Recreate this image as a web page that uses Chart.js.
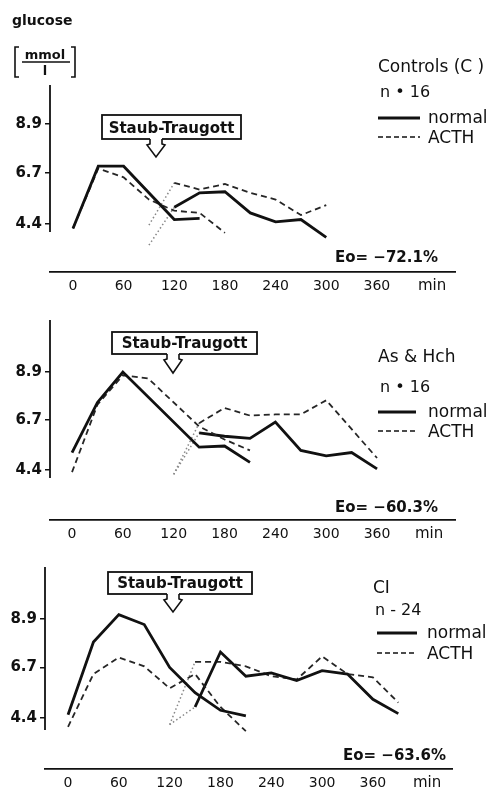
<!DOCTYPE html>
<html lang="de">
<head>
<meta charset="UTF-8">
<title>Glucose - Staub-Traugott</title>
<script src="https://cdn.jsdelivr.net/npm/chart.js"></script>
<style>
  body { margin: 0; background: #fff; width: 498px; height: 794px; position: relative; overflow: hidden; }
  canvas { position: absolute; left: 0; display: block; }
</style>
</head>
<body>
<canvas id="c1" width="498" height="300" style="top:0px"></canvas>
<canvas id="c2" width="498" height="250" style="top:300px"></canvas>
<canvas id="c3" width="498" height="244" style="top:550px"></canvas>

<script>
// minutes after glucose load / glucose in mmol/l
const xTicks = [0, 60, 120, 180, 240, 300, 360];
const yTicks = [4.4, 6.7, 8.9];

const groupNames = ['Controls (C )', 'As & Hch', 'CI'];
const groupN = ['n • 16', 'n • 16', 'n - 24'];
const eoPercent = ['-72.1', '-60.3', '-63.6'];
const seriesNames = ['normal', 'ACTH'];
const calloutText = 'Staub-Traugott';

// Controls (C)
const ctrlNormal1 = [[0, 4.2], [30, 7.0], [60, 7.0], [120, 4.6], [150, 4.65]];
const ctrlActh1 = [[0, 4.2], [30, 6.9], [60, 6.5], [90, 5.5], [120, 5.0], [150, 4.9], [180, 4.0]];
const ctrlNormal2 = [[90, 3.45], [120, 5.15], [150, 5.8], [180, 5.85], [210, 4.9], [240, 4.5], [270, 4.6], [300, 3.8]];
const ctrlActh2 = [[90, 4.35], [120, 6.25], [150, 5.95], [180, 6.2], [210, 5.8], [240, 5.5], [270, 4.8], [300, 5.25]];

// As & Hch
const asNormal1 = [[0, 5.2], [30, 7.5], [60, 8.9], [150, 5.45], [180, 5.5], [210, 4.75]];
const asActh1 = [[0, 4.3], [30, 7.4], [60, 8.75], [90, 8.6], [150, 6.4], [180, 5.8], [210, 5.3]];
const asNormal2 = [[120, 4.2], [150, 6.1], [180, 5.95], [210, 5.85], [240, 6.6], [270, 5.3], [300, 5.05], [330, 5.2], [360, 4.45]];
const asActh2 = [[120, 4.2], [150, 6.55], [180, 7.25], [210, 6.9], [240, 6.95], [270, 6.95], [300, 7.6], [360, 4.95]];

// CI
const ciNormal1 = [[0, 4.55], [30, 7.85], [60, 9.1], [90, 8.65], [120, 6.7], [150, 5.55], [180, 4.75], [210, 4.5]];
const ciActh1 = [[0, 4.0], [30, 6.4], [60, 7.15], [90, 6.75], [120, 5.75], [150, 6.4], [180, 4.9], [210, 3.8]];
const ciNormal2 = [[120, 4.1], [150, 4.9], [180, 7.4], [210, 6.3], [240, 6.45], [270, 6.1], [300, 6.55], [330, 6.4], [360, 5.25], [390, 4.6]];
const ciActh2 = [[120, 4.1], [150, 6.95], [180, 6.95], [210, 6.75], [240, 6.3], [270, 6.15], [300, 7.2], [330, 6.4], [360, 6.25], [390, 5.1]];

const INK = '#111';
const FONT = "'DejaVu Sans', sans-serif";

// layout of each panel (pixels inside its own canvas)
const panels = [
  { id: 'c1', h: 300, area: { l: 50, r: 455, t: 85, b: 272 }, x: [-27.2, 452.5], y: [2.24, 10.655], yAxisEnd: 232,
    box: { x: 102, y: 115, w: 139, h: 24 }, tipX: 156, tipY: 157,
    title: [378, 72], n: [380, 97], leg: { x1: 378, x2: 420, y1: 118, y2: 137, tx: 428 }, eo: [335, 262], minX: 418, unit: true,
    series: [ctrlNormal1, ctrlActh1, ctrlNormal2, ctrlActh2] },
  { id: 'c2', h: 250, area: { l: 50, r: 455, t: 20, b: 220 }, x: [-26, 452], y: [2.104, 11.287], yAxisEnd: 178,
    box: { x: 112, y: 32, w: 145, h: 22 }, tipX: 173, tipY: 73,
    title: [378, 62], n: [380, 92], leg: { x1: 378, x2: 416, y1: 112, y2: 131, tx: 428 }, eo: [335, 212], minX: 415,
    series: [asNormal1, asActh1, asNormal2, asActh2] },
  { id: 'c3', h: 244, area: { l: 45, r: 452, t: 17, b: 219 }, x: [-27.2, 453.4], y: [2.082, 11.264], yAxisEnd: 180,
    box: { x: 108, y: 22, w: 144, h: 22 }, tipX: 173, tipY: 62,
    title: [373, 43], n: [375, 65], leg: { x1: 377, x2: 417, y1: 83, y2: 103, tx: 427 }, eo: [343, 210], minX: 413,
    series: [ciNormal1, ciActh1, ciNormal2, ciActh2] }
];

function toPoints(arr) {
  return arr.map(p => ({ x: p[0], y: p[1] }));
}

function drawCallout(ctx, p) {
  const b = p.box;
  ctx.save();
  ctx.strokeStyle = INK;
  ctx.lineWidth = 1.8;
  ctx.fillStyle = '#fff';
  ctx.fillRect(b.x, b.y, b.w, b.h);
  ctx.strokeRect(b.x, b.y, b.w, b.h);
  const bot = b.y + b.h;
  const cx = p.tipX;
  ctx.fillRect(cx - 6, bot - 1.5, 12, 3);
  ctx.lineWidth = 1.6;
  ctx.beginPath();
  ctx.moveTo(cx - 6, bot);
  ctx.lineTo(cx - 6, bot + 5);
  ctx.lineTo(cx - 9, bot + 6);
  ctx.lineTo(cx, p.tipY);
  ctx.lineTo(cx + 9, bot + 6);
  ctx.lineTo(cx + 6, bot + 5);
  ctx.lineTo(cx + 6, bot);
  ctx.stroke();
  ctx.fillStyle = INK;
  ctx.font = 'bold 15px ' + FONT;
  ctx.textAlign = 'center';
  ctx.textBaseline = 'alphabetic';
  ctx.fillText(calloutText, b.x + b.w / 2, bot - 6);
  ctx.restore();
}

function drawUnit(ctx) {
  ctx.save();
  ctx.fillStyle = INK;
  ctx.strokeStyle = INK;
  ctx.font = 'bold 14px ' + FONT;
  ctx.textBaseline = 'alphabetic';
  ctx.fillText('glucose', 12, 25);
  ctx.font = 'bold 13px ' + FONT;
  ctx.textAlign = 'center';
  ctx.fillText('mmol', 45, 59);
  ctx.fillText('l', 45, 75);
  ctx.lineWidth = 1.6;
  ctx.beginPath();
  ctx.moveTo(22, 62); ctx.lineTo(70, 62);
  // brackets
  ctx.moveTo(19, 47); ctx.lineTo(15, 47); ctx.lineTo(15, 77); ctx.lineTo(19, 77);
  ctx.moveTo(71, 47); ctx.lineTo(75, 47); ctx.lineTo(75, 77); ctx.lineTo(71, 77);
  ctx.stroke();
  ctx.restore();
}

const decor = {
  id: 'decor',
  afterDraw(chart, args, opts) {
    const p = opts.panel;
    const i = opts.index;
    const ctx = chart.ctx;
    const a = chart.chartArea;
    ctx.save();
    // y axis line (stops above the x axis)
    ctx.strokeStyle = INK;
    ctx.lineWidth = 1.8;
    ctx.beginPath();
    ctx.moveTo(a.left, a.top);
    ctx.lineTo(a.left, p.yAxisEnd);
    ctx.stroke();

    drawCallout(ctx, p);
    if (p.unit) drawUnit(ctx);

    ctx.fillStyle = INK;
    ctx.textAlign = 'left';
    ctx.textBaseline = 'alphabetic';
    ctx.font = '17px ' + FONT;
    ctx.fillText(groupNames[i], p.title[0], p.title[1]);
    ctx.font = '16px ' + FONT;
    ctx.fillText(groupN[i], p.n[0], p.n[1]);

    // legend
    const L = p.leg;
    ctx.lineWidth = 2.8;
    ctx.beginPath();
    ctx.moveTo(L.x1, L.y1); ctx.lineTo(L.x2, L.y1);
    ctx.stroke();
    ctx.lineWidth = 1.7;
    ctx.setLineDash([5, 3]);
    ctx.beginPath();
    ctx.moveTo(L.x1, L.y2); ctx.lineTo(L.x2, L.y2);
    ctx.stroke();
    ctx.setLineDash([]);
    ctx.font = '17px ' + FONT;
    ctx.fillText(seriesNames[0], L.tx, L.y1 + 5);
    ctx.fillText(seriesNames[1], L.tx, L.y2 + 6);

    ctx.font = 'bold 15px ' + FONT;
    ctx.fillText('Eo= \u2212' + eoPercent[i].replace('-', '') + '%', p.eo[0], p.eo[1]);

    ctx.font = '15px ' + FONT;
    ctx.fillText('min', p.minX, a.bottom + 18);
    ctx.restore();
  }
};

function makeChart(p, index) {
  const s = p.series;
  const normalStyle = { borderColor: INK, borderWidth: 2.8, pointRadius: 0, fill: false, tension: 0 };
  const acthStyle = { borderColor: '#262626', borderWidth: 1.8, borderDash: [6, 4], pointRadius: 0, fill: false, tension: 0 };
  const dottedStart = {
    borderDash: c => c.p0DataIndex === 0 ? [1.5, 2.5] : undefined,
    borderColor: c => c.p0DataIndex === 0 ? '#888' : undefined,
    borderWidth: c => c.p0DataIndex === 0 ? 1.5 : undefined
  };

  return new Chart(document.getElementById(p.id), {
    type: 'line',
    data: {
      datasets: [
        Object.assign({ label: 'normal', data: toPoints(s[0]) }, normalStyle),
        Object.assign({ label: 'ACTH', data: toPoints(s[1]) }, acthStyle),
        Object.assign({ label: 'normal 2', data: toPoints(s[2]), segment: dottedStart }, normalStyle),
        Object.assign({ label: 'ACTH 2', data: toPoints(s[3]), segment: dottedStart }, acthStyle)
      ]
    },
    options: {
      responsive: false,
      animation: false,
      devicePixelRatio: 1,
      layout: { padding: { left: 0, top: p.area.t, right: 498 - p.area.r, bottom: 0 } },
      plugins: {
        legend: { display: false },
        tooltip: { enabled: false },
        decor: { panel: p, index: index }
      },
      scales: {
        x: {
          type: 'linear',
          min: p.x[0],
          max: p.x[1],
          afterBuildTicks: sc => { sc.ticks = xTicks.map(v => ({ value: v })); },
          afterFit: sc => { sc.height = p.h - p.area.b; },
          grid: { display: false, drawTicks: false },
          border: { display: true, color: INK, width: 1.8 },
          ticks: { color: INK, font: { family: FONT, size: 14 }, padding: 6, maxRotation: 0, autoSkip: false }
        },
        y: {
          type: 'linear',
          min: p.y[0],
          max: p.y[1],
          afterBuildTicks: sc => { sc.ticks = yTicks.map(v => ({ value: v })); },
          afterFit: sc => { sc.width = p.area.l; },
          grid: { display: true, drawOnChartArea: false, drawTicks: true, tickLength: 5, color: INK, lineWidth: 1.5 },
          border: { display: false },
          ticks: { color: INK, font: { family: FONT, size: 15, weight: 'bold' }, padding: 3, callback: v => v.toFixed(1) }
        }
      }
    },
    plugins: [decor]
  });
}

panels.forEach((p, i) => makeChart(p, i));
</script>
</body>
</html>
